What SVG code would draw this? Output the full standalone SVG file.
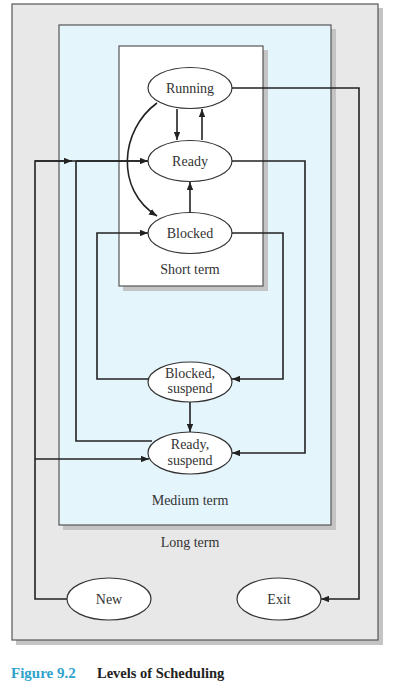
<svg xmlns="http://www.w3.org/2000/svg" width="402" height="699" viewBox="0 0 402 699">
<style>
.box{stroke:#555;stroke-width:1.2}
.shadow{fill:#c4c4c4}
.node ellipse{fill:#fff;stroke:#333;stroke-width:1.2}
text{font-family:"Liberation Serif","Times New Roman",serif;font-size:14px;fill:#333;text-anchor:middle}
.conn path,.conn line{fill:none;stroke:#222;stroke-width:1.6}
.arr{marker-end:url(#ah)}
</style>
<defs>
<marker id="ah" viewBox="0 0 10 8" refX="10" refY="4" markerWidth="8" markerHeight="6.4" markerUnits="userSpaceOnUse" orient="auto">
<path d="M0,0 L10,4 L0,8 Z" fill="#222"/>
</marker>
</defs>
<rect width="402" height="699" fill="#fff"/>
<g id="longterm">
<rect class="shadow" x="16" y="8" width="367" height="637"/>
<rect class="box" x="12" y="4" width="366" height="636" fill="#e8e8e8"/>
<text x="190" y="547">Long term</text>
</g>
<g id="mediumterm">
<rect class="shadow" x="63" y="29" width="273" height="501"/>
<rect class="box" x="59" y="25" width="272" height="500" fill="#e5f5fc"/>
<text x="190" y="505">Medium term</text>
</g>
<g id="shortterm">
<rect class="shadow" x="123" y="50" width="145" height="241"/>
<rect class="box" x="119" y="46" width="144" height="240" fill="#fff"/>
<text x="190" y="274">Short term</text>
</g>
<g class="conn" id="connectors">
<path class="arr" d="M232,88 H359 V599 H321"/>
<line class="arr" x1="177" y1="109" x2="177" y2="140"/>
<line class="arr" x1="202" y1="140" x2="202" y2="109"/>
<path class="arr" d="M157,103 C120,130 115,190 157,216"/>
<line class="arr" x1="190" y1="213" x2="190" y2="182"/>
<path d="M67,599 H35 V161 H148"/>
<line class="arr" x1="35" y1="161" x2="72" y2="161"/>
<line class="arr" x1="76" y1="161" x2="148" y2="161"/>
<line class="arr" x1="35" y1="459" x2="149" y2="459"/>
<path d="M152,441 H76 V161"/>
<path class="arr" d="M148,379 H97 V233 H148"/>
<path class="arr" d="M232,233 H283 V379 H232"/>
<path class="arr" d="M232,161 H305 V453 H232"/>
<line class="arr" x1="190" y1="402" x2="190" y2="432"/>
</g>
<g class="node" id="running"><ellipse cx="190" cy="88" rx="42" ry="20.5"/><text x="190" y="93">Running</text></g>
<g class="node" id="ready"><ellipse cx="190" cy="161" rx="42" ry="20.5"/><text x="190" y="166">Ready</text></g>
<g class="node" id="blocked"><ellipse cx="190" cy="233" rx="42" ry="20.5"/><text x="190" y="238">Blocked</text></g>
<g class="node" id="blockedsuspend"><ellipse cx="190" cy="382" rx="42" ry="20"/><text x="190" y="378">Blocked,</text><text x="190" y="393">suspend</text></g>
<g class="node" id="readysuspend"><ellipse cx="190" cy="453" rx="42" ry="21"/><text x="190" y="449">Ready,</text><text x="190" y="465">suspend</text></g>
<g class="node" id="new"><ellipse cx="109" cy="599" rx="42" ry="21"/><text x="109" y="604">New</text></g>
<g class="node" id="exit"><ellipse cx="279" cy="599" rx="42" ry="21"/><text x="279" y="604">Exit</text></g>
<g id="caption">
<text x="11" y="678" style="text-anchor:start;font-weight:bold;font-size:15px;fill:#2fa3cc">Figure 9.2</text>
<text x="97" y="678" style="text-anchor:start;font-weight:bold;font-size:14.5px;fill:#222">Levels of Scheduling</text>
</g>
</svg>
